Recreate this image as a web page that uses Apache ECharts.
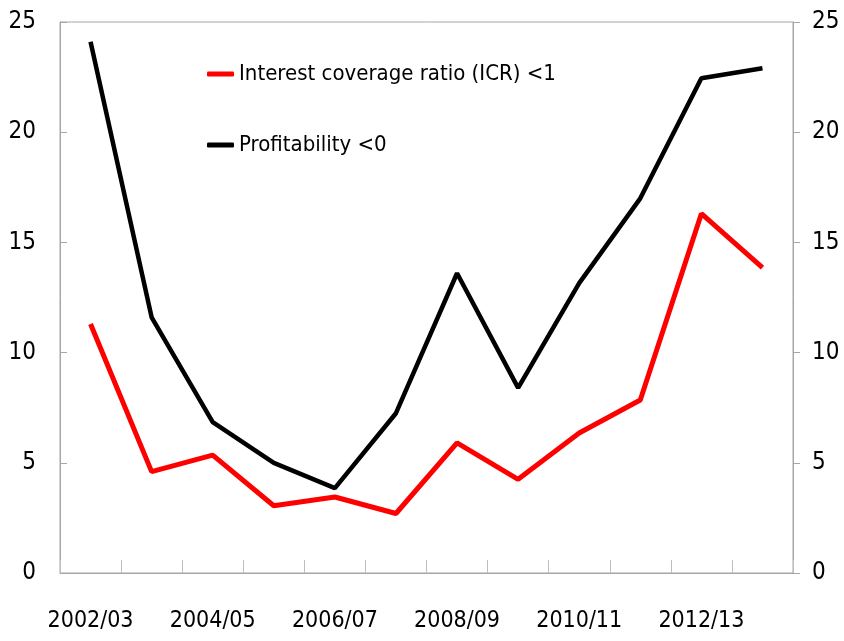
<!DOCTYPE html>
<html>
<head>
<meta charset="utf-8">
<script src="https://cdn.jsdelivr.net/npm/echarts@6/dist/echarts.min.js"></script>
<style>
  html, body { margin: 0; padding: 0; background: #fff; }
  #chart { width: 844px; height: 641px; }
</style>
</head>
<body>
<div id="chart"></div>
<script>
// financial years
const years = ["2002/03", "2003/04", "2004/05", "2005/06", "2006/07", "2007/08",
  "2008/09", "2009/10", "2010/11", "2011/12", "2012/13", "2013/14"];
// share of firms, per cent
const icrBelowOne = [11.3, 4.6, 5.35, 3.05, 3.45, 2.7, 5.9, 4.25, 6.35, 7.85, 16.3, 13.85];
const profitBelowZero = [24.1, 11.6, 6.85, 5.0, 3.85, 7.25, 13.6, 8.4, 13.15, 17.0, 22.45, 22.9];
const yTicks = [0, 5, 10, 15, 20, 25];

const font = '"DejaVu Sans Condensed", "Liberation Sans", sans-serif';
const chart = echarts.init(document.getElementById("chart"));

const valueAxis = (pos, inside, margin) => ({
  type: "value",
  position: pos,
  min: yTicks[0],
  max: yTicks[yTicks.length - 1],
  interval: yTicks[1] - yTicks[0],
  axisLine: { show: true, lineStyle: { color: "#a6a6a6", width: 1 } },
  axisTick: { show: true, inside: inside, length: 7, lineStyle: { color: "#a6a6a6" } },
  axisLabel: { color: "#000", fontSize: 24, fontFamily: font, margin: margin },
  splitLine: { show: false }
});

chart.setOption({
  animation: false,
  backgroundColor: "#fff",
  grid: {
    left: 60, right: 51, top: 22, bottom: 68,
    show: true, borderColor: "#a6a6a6", borderWidth: 1
  },
  legend: {
    orient: "vertical",
    left: 202,
    top: 58,
    itemGap: 49,
    itemWidth: 27,
    itemHeight: 5,
    icon: "roundRect",
    textStyle: { color: "#000", fontSize: 22, fontFamily: font },
    data: ["Interest coverage ratio (ICR) <1", "Profitability <0"]
  },
  xAxis: {
    type: "category",
    data: years,
    boundaryGap: true,
    axisLine: { lineStyle: { color: "#a6a6a6", width: 1 } },
    axisTick: { show: true, inside: true, length: 13, interval: 0, lineStyle: { color: "#bfbfbf" } },
    axisLabel: { interval: 1, color: "#000", fontSize: 23, fontFamily: font, margin: 37 }
  },
  yAxis: [
    valueAxis("left", true, 24),
    valueAxis("right", false, 19)
  ],
  series: [
    {
      name: "Interest coverage ratio (ICR) <1",
      type: "line",
      data: icrBelowOne,
      symbol: "none",
      color: "#ff0000",
      lineStyle: { color: "#ff0000", width: 5 }
    },
    {
      name: "Profitability <0",
      type: "line",
      data: profitBelowZero,
      symbol: "none",
      color: "#000000",
      lineStyle: { color: "#000000", width: 4.5 }
    }
  ]
});
</script>
</body>
</html>
